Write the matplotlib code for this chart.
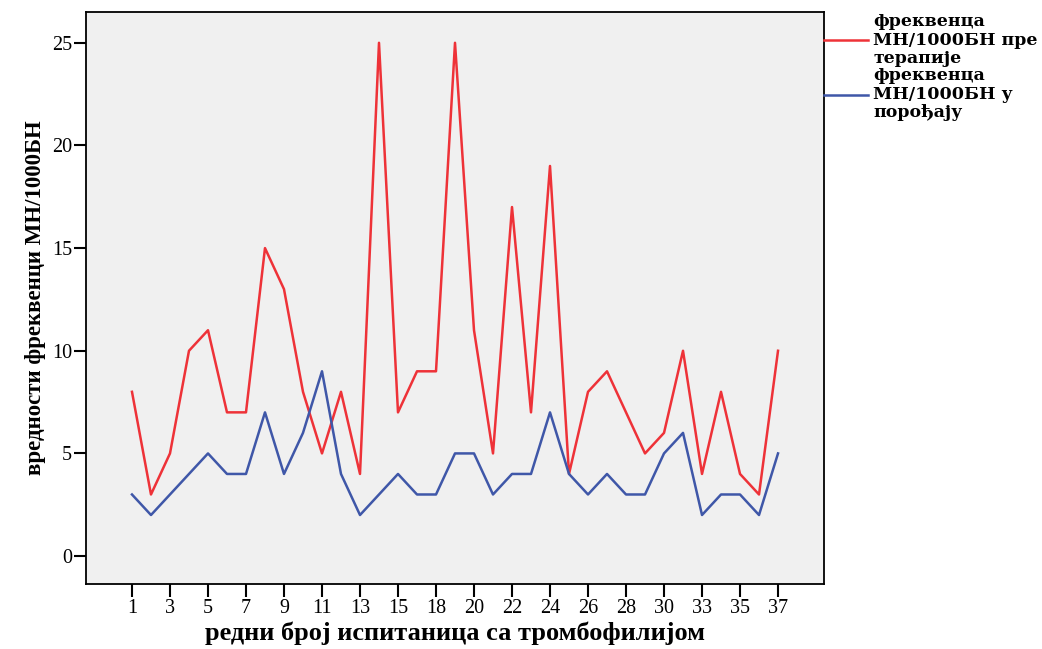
import matplotlib
matplotlib.use("Agg")
import matplotlib.pyplot as plt

categories = [1, 2, 3, 4, 5, 6, 7, 8, 9, 10, 11, 12, 13, 14, 15, 16, 18, 19, 20,
              21, 22, 23, 24, 25, 26, 27, 28, 29, 30, 31, 33, 34, 35, 36, 37]
before_therapy = [8, 3, 5, 10, 11, 7, 7, 15, 13, 8, 5, 8, 4, 25, 7, 9, 9, 25, 11,
                  5, 17, 7, 19, 4, 8, 9, 7, 5, 6, 10, 4, 8, 4, 3, 10]
at_delivery = [3, 2, 3, 4, 5, 4, 4, 7, 4, 6, 9, 4, 2, 3, 4, 3, 3, 5, 5,
               3, 4, 4, 7, 4, 3, 4, 3, 3, 5, 6, 2, 3, 3, 2, 5]
label_before = "фреквенца\nМН/1000БН пре\nтерапије"
label_delivery = "фреквенца\nМН/1000БН у\nпорођају"
y_ticks = [0, 5, 10, 15, 20, 25]

plt.rcParams['font.family'] = ['Liberation Serif', 'DejaVu Serif']

fig = plt.figure(figsize=(10.42, 6.49), dpi=100)
ax = fig.add_axes([86/1042, 1-584/649, (824-86)/1042, (584-12)/649])
ax.set_facecolor('#F0F0F0')

pos = list(range(len(categories)))
ax.plot(pos, before_therapy, color='#EE3238', lw=1.8, label=label_before)
ax.plot(pos, at_delivery, color='#3F57A8', lw=1.8, label=label_delivery)

ax.set_xlim(-2.42, 36.42)
ax.set_ylim(-1.36, 26.5)
ax.set_xticks(pos[::2])
ax.set_xticklabels([str(c) for c in categories[::2]], fontsize=14.5)
ax.set_yticks(y_ticks)
ax.set_yticklabels([str(v) for v in y_ticks], fontsize=14.5)
ax.tick_params(axis='both', direction='out', length=9, width=1.5, color='black')
ax.tick_params(axis='x', pad=2)
ax.tick_params(axis='y', pad=1)
for s in ax.spines.values():
    s.set_linewidth(1.3)
    s.set_color('black')

ax.set_xlabel("редни број испитаница са тромбофилијом", fontsize=19, fontweight='bold', labelpad=2)
ax.set_ylabel("вредности фреквенци МН/1000БН", fontsize=16.5, fontweight='bold', labelpad=4)

leg = ax.legend(loc='upper left', bbox_to_anchor=(824/1042, 1-13/649), bbox_transform=fig.transFigure,
                frameon=False, prop={'family': ['DejaVu Serif'], 'weight': 'bold', 'size': 12.5},
                handlelength=2.55, handletextpad=0.3, borderaxespad=0, borderpad=0, labelspacing=0.0)
for t in leg.get_texts():
    t.set_linespacing(1.12)

fig.savefig("out.png", dpi=100)
